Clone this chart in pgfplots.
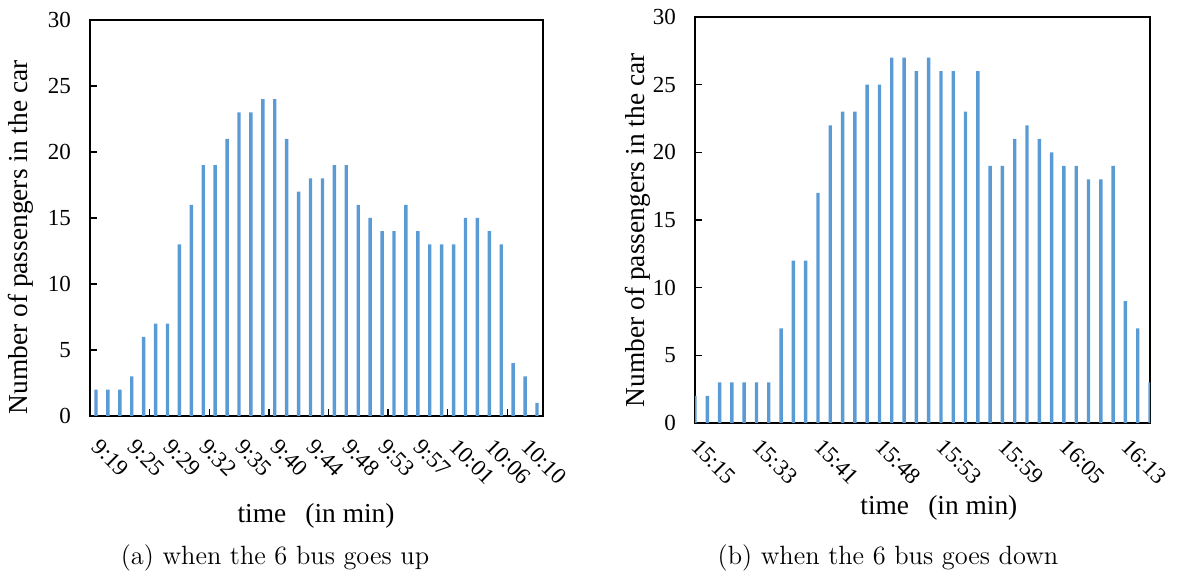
\documentclass[border=0pt]{standalone}
\usepackage{pgfplots}
\pgfplotsset{compat=1.18}
\usepackage{fontspec}
\newfontfamily\timesf{Liberation Serif}
\definecolor{barblue}{HTML}{5B9BD5}

% shared look of both bus panels
\pgfplotsset{
  busaxis/.style={
    scale only axis, ybar, bar width=1.7pt, enlarge x limits=false,
    ymin=0, ymax=30, ytick={0,5,...,30},
    tick align=inside, xtick pos=bottom, ytick pos=left,
    axis line style={line width=0.7pt},
    major tick length=3.5pt,
    tick style={line width=0.7pt, black},
    tick label style={font=\fontsize{11.5}{13}\timesf},
    label style={font=\fontsize{13.7}{16}\timesf},
    /pgf/number format/assume math mode=true,
    yticklabel style={xshift=-6pt},
    xticklabels={},
    extra x tick style={major tick length=0pt},
    ylabel={Number of passengers in the car},
    xlabel={time\hspace{0.7em}(in min)},
  }
}

\begin{document}
\begin{tikzpicture}
\useasboundingbox (0,0) rectangle (592pt,288.5pt);

% (a) going up
\begin{axis}[busaxis, at={(45pt,80.5pt)}, anchor=south west,
  width=226.5pt, height=198pt,
  xmin=0.5, xmax=38.5, xtick={5.5,10.5,...,35.5},
  extra x ticks={1,4,...,37},
  extra x tick labels={9:19,9:25,9:29,9:32,9:35,9:40,9:44,9:48,9:53,9:57,10:01,10:06,10:10},
  xticklabel style={yshift=-13.5pt, rotate=-45, anchor=west, inner sep=0pt},
  ylabel style={at={(axis description cs:-0.152,0.451)}, anchor=center},
  xlabel style={at={(axis description cs:0.499,-0.2525)}, anchor=center}]
\addplot[fill=barblue, draw=none] coordinates {
  (1,2) (2,2) (3,2) (4,3) (5,6) (6,7) (7,7) (8,13) (9,16) (10,19)
  (11,19) (12,21) (13,23) (14,23) (15,24) (16,24) (17,21) (18,17) (19,18) (20,18)
  (21,19) (22,19) (23,16) (24,15) (25,14) (26,14) (27,16) (28,14) (29,13) (30,13)
  (31,13) (32,15) (33,15) (34,14) (35,13) (36,4) (37,3) (38,1)};
\end{axis}

% (b) going down
\begin{axis}[busaxis, at={(347.5pt,77pt)}, anchor=south west,
  width=227.5pt, height=203pt,
  xmin=1, xmax=38, xtick={6,11,...,36},
  extra x ticks={1,6,...,36},
  extra x tick labels={15:15,15:33,15:41,15:48,15:53,15:59,16:05,16:13},
  xticklabel style={yshift=-10pt, rotate=-45, anchor=west, inner sep=0pt},
  ylabel style={at={(axis description cs:-0.125,0.475)}, anchor=center},
  xlabel style={at={(axis description cs:0.536,-0.209)}, anchor=center}]
\addplot[fill=barblue, draw=none] coordinates {
  (1,2) (2,2) (3,3) (4,3) (5,3) (6,3) (7,3) (8,7) (9,12) (10,12)
  (11,17) (12,22) (13,23) (14,23) (15,25) (16,25) (17,27) (18,27) (19,26) (20,27)
  (21,26) (22,26) (23,23) (24,26) (25,19) (26,19) (27,21) (28,22) (29,21) (30,20)
  (31,19) (32,19) (33,18) (34,18) (35,19) (36,9) (37,7) (38,3)};
\end{axis}

\node[font=\fontsize{13.2}{15}\selectfont] at (137.5pt,9.5pt) {(a) when the 6 bus goes up};
\node[font=\fontsize{13.2}{15}\selectfont] at (444pt,9.5pt) {(b) when the 6 bus goes down};
\end{tikzpicture}
\end{document}
